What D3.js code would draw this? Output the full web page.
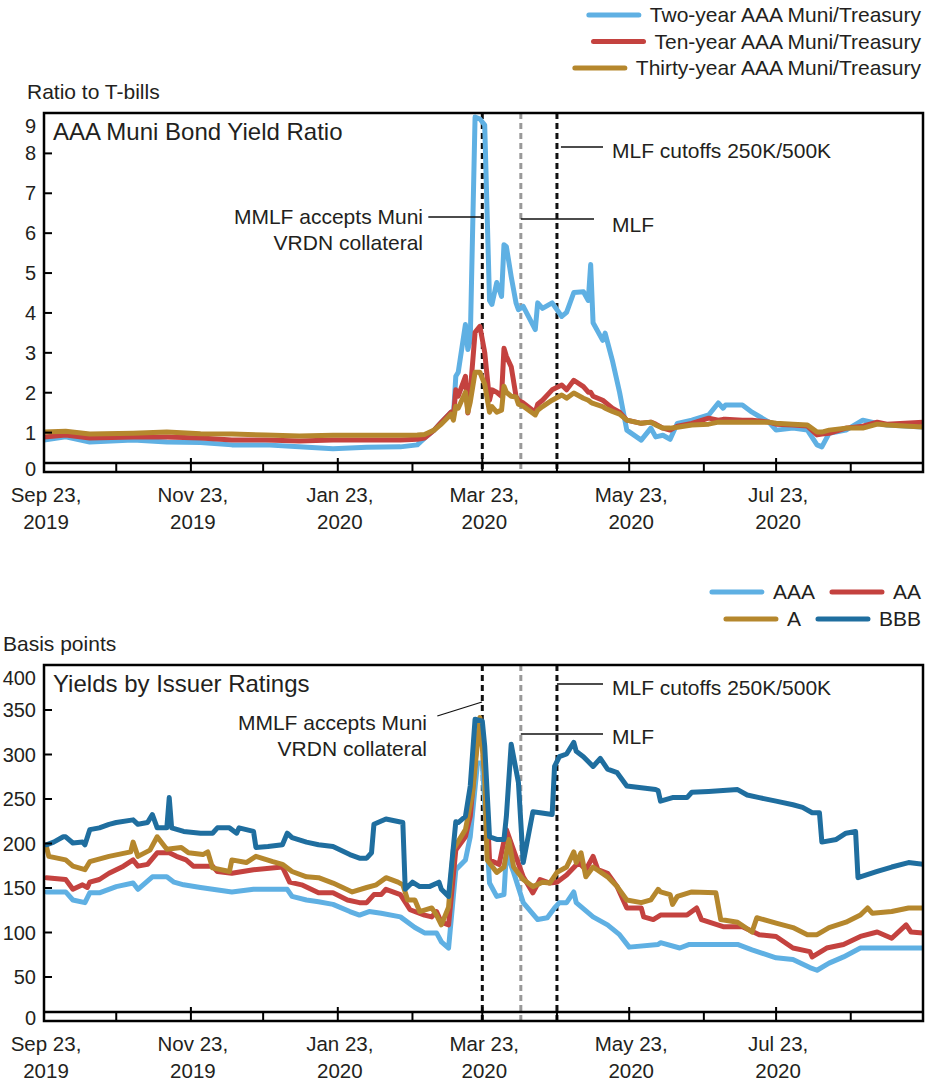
<!DOCTYPE html>
<html>
<head>
<meta charset="utf-8">
<script src="https://d3js.org/d3.v7.min.js"></script>
<style>
  body { margin: 0; background: #fff; }
  svg { display: block; font-family: 'Liberation Sans', Arial, sans-serif; }
  text { fill: #231f20; }
</style>
</head>
<body>
<div id="chart"></div>
<script>
// ---- Data: AAA muni / Treasury yield ratios ----
const ratioDates = ['2019-09-23','2019-10-02','2019-10-12','2019-10-30','2019-11-13','2019-11-27','2019-12-10','2019-12-24','2020-01-07','2020-01-21',
  '2020-02-04','2020-02-18','2020-02-25','2020-02-28','2020-03-03','2020-03-06','2020-03-10','2020-03-11','2020-03-12','2020-03-13',
  '2020-03-16','2020-03-17','2020-03-18','2020-03-20','2020-03-22','2020-03-24','2020-03-26','2020-03-27','2020-03-29','2020-03-31',
  '2020-04-01','2020-04-02','2020-04-04','2020-04-06','2020-04-07','2020-04-09','2020-04-14','2020-04-15','2020-04-17','2020-04-21',
  '2020-04-25','2020-04-27','2020-04-30','2020-05-04','2020-05-06','2020-05-07','2020-05-08','2020-05-12','2020-05-13','2020-05-16',
  '2020-05-19','2020-05-22','2020-05-28','2020-06-01','2020-06-03','2020-06-06','2020-06-09','2020-06-12','2020-06-18','2020-06-25',
  '2020-06-29','2020-07-01','2020-07-02','2020-07-09','2020-07-13','2020-07-20','2020-07-23','2020-07-30','2020-08-05','2020-08-09',
  '2020-08-11','2020-08-14','2020-08-21','2020-08-28','2020-09-03','2020-09-07','2020-09-22']
const twoYear = [0.80,0.88,0.75,0.80,0.75,0.74,0.68,0.68,0.63,0.58,
  0.62,0.63,0.68,0.85,1.05,1.25,1.50,1.38,2.40,2.50,
  3.70,3.07,3.30,8.90,8.85,8.70,4.30,4.20,4.75,4.40,
  5.70,5.65,4.90,4.24,4.07,4.15,3.57,4.24,4.10,4.24,
  3.90,4.00,4.50,4.52,4.30,5.20,3.74,3.30,3.48,2.80,
  2.00,1.05,0.80,1.10,0.88,0.92,0.82,1.22,1.30,1.43,
  1.73,1.60,1.68,1.68,1.50,1.25,1.05,1.10,1.05,0.68,
  0.63,0.97,1.05,1.30,1.22,1.18,1.13]
const tenYear = [0.88,0.93,0.85,0.88,0.88,0.85,0.80,0.80,0.78,0.80,
  0.80,0.80,0.82,0.85,1.05,1.25,1.50,1.38,2.06,1.90,
  2.40,1.48,2.00,3.50,3.65,3.00,1.80,2.06,2.00,1.90,
  3.10,2.90,2.64,1.90,1.80,1.73,1.50,1.70,1.80,2.06,
  2.18,2.06,2.30,2.14,2.00,2.00,1.90,1.80,1.75,1.60,
  1.50,1.30,1.22,1.25,1.20,1.10,1.05,1.15,1.22,1.35,
  1.30,1.32,1.32,1.30,1.30,1.25,1.20,1.18,1.15,0.93,
  0.95,0.97,1.10,1.15,1.25,1.20,1.25]
const thirtyYear = [1.00,1.02,0.95,0.97,1.00,0.96,0.95,0.93,0.90,0.92,
  0.92,0.92,0.93,0.94,1.05,1.20,1.45,1.30,1.65,1.60,
  2.00,1.50,1.75,2.50,2.50,2.20,1.50,1.64,1.50,1.55,
  2.15,2.00,1.90,1.88,1.70,1.65,1.43,1.55,1.64,1.80,
  1.93,1.85,1.98,1.85,1.80,1.75,1.72,1.64,1.60,1.52,
  1.45,1.30,1.22,1.25,1.18,1.10,1.10,1.12,1.18,1.20,
  1.25,1.25,1.25,1.25,1.25,1.25,1.22,1.20,1.18,1.00,
  1.00,1.05,1.10,1.10,1.20,1.18,1.13]

// ---- Data: yields by issuer rating (basis points) ----
const aaaYield = [['2019-09-24',145],['2019-10-02',145],['2019-10-05',136],['2019-10-10',133],['2019-10-12',144],['2019-10-16',144],
  ['2019-10-23',151],['2019-10-30',155],['2019-11-01',148],['2019-11-07',162],['2019-11-13',162],['2019-11-16',156],['2019-11-20',153],
  ['2019-11-27',150],['2019-12-10',145],['2019-12-19',148],['2020-01-02',148],['2020-01-04',140],['2020-01-10',136],['2020-01-15',134],
  ['2020-01-21',131],['2020-01-28',123],['2020-02-01',119],['2020-02-05',123],['2020-02-10',121],['2020-02-18',117],['2020-02-24',105],
  ['2020-02-28',99],['2020-03-04',99],['2020-03-06',89],['2020-03-09',82],['2020-03-12',170],['2020-03-16',181],['2020-03-18',207],
  ['2020-03-21',290],['2020-03-23',290],['2020-03-24',245],['2020-03-26',155],['2020-03-29',140],['2020-04-01',142],['2020-04-02',189],
  ['2020-04-05',167],['2020-04-09',133],['2020-04-15',114],['2020-04-19',116],['2020-04-22',127],['2020-04-24',133],['2020-04-27',133],
  ['2020-04-30',145],['2020-05-01',133],['2020-05-08',117],['2020-05-14',108],['2020-05-19',97],['2020-05-23',83],['2020-06-04',86],
  ['2020-06-05',88],['2020-06-13',82],['2020-06-17',86],['2020-07-07',86],['2020-07-13',80],['2020-07-23',71],['2020-07-30',69],
  ['2020-08-06',60],['2020-08-09',57],['2020-08-14',65],['2020-08-20',72],['2020-08-27',82],['2020-09-03',82],['2020-09-22',82]]
const aaYield = [['2019-09-24',161],['2019-10-02',159],['2019-10-05',148],['2019-10-09',153],['2019-10-11',150],['2019-10-12',156],
  ['2019-10-16',159],['2019-10-20',166],['2019-10-26',174],['2019-10-30',181],['2019-11-01',174],['2019-11-05',176],['2019-11-09',189],
  ['2019-11-14',189],['2019-11-17',185],['2019-11-21',181],['2019-11-24',174],['2019-12-02',174],['2019-12-04',168],['2019-12-10',166],
  ['2019-12-19',170],['2019-12-31',173],['2020-01-03',156],['2020-01-08',153],['2020-01-15',144],['2020-01-21',144],['2020-01-27',136],
  ['2020-02-01',133],['2020-02-04',133],['2020-02-07',142],['2020-02-10',142],['2020-02-12',148],['2020-02-18',142],['2020-02-22',125],
  ['2020-02-28',119],['2020-03-02',117],['2020-03-04',123],['2020-03-06',111],['2020-03-09',108],['2020-03-12',192],['2020-03-16',207],
  ['2020-03-18',230],['2020-03-21',320],['2020-03-23',317],['2020-03-25',241],['2020-03-26',181],['2020-03-30',176],['2020-04-02',215],
  ['2020-04-05',192],['2020-04-09',162],['2020-04-13',144],['2020-04-16',159],['2020-04-20',155],['2020-04-23',156],['2020-04-27',164],
  ['2020-05-02',178],['2020-05-05',170],['2020-05-08',185],['2020-05-10',170],['2020-05-14',166],['2020-05-18',151],['2020-05-22',127],
  ['2020-05-28',127],['2020-05-29',117],['2020-06-02',114],['2020-06-05',119],['2020-06-16',119],['2020-06-20',127],['2020-06-22',114],
  ['2020-07-01',106],['2020-07-09',106],['2020-07-16',97],['2020-07-23',95],['2020-07-30',82],['2020-08-06',78],['2020-08-07',72],
  ['2020-08-13',82],['2020-08-20',86],['2020-08-27',95],['2020-09-03',100],['2020-09-09',93],['2020-09-15',108],['2020-09-17',100],
  ['2020-09-22',99]]
const aYield = [['2019-09-24',196],['2019-09-25',185],['2019-10-02',181],['2019-10-05',174],['2019-10-10',170],['2019-10-12',179],
  ['2019-10-20',185],['2019-10-29',190],['2019-10-30',201],['2019-11-01',185],['2019-11-06',192],['2019-11-09',207],['2019-11-13',193],
  ['2019-11-19',195],['2019-11-22',189],['2019-11-28',187],['2019-11-30',190],['2019-12-02',172],['2019-12-09',168],['2019-12-10',181],
  ['2019-12-16',178],['2019-12-20',185],['2019-12-27',179],['2019-12-31',176],['2020-01-04',168],['2020-01-10',162],['2020-01-15',161],
  ['2020-01-21',155],['2020-01-25',150],['2020-01-29',145],['2020-02-04',150],['2020-02-08',153],['2020-02-12',161],['2020-02-17',156],
  ['2020-02-19',153],['2020-02-21',136],['2020-02-24',136],['2020-02-26',123],['2020-03-02',127],['2020-03-04',119],['2020-03-06',108],
  ['2020-03-09',128],['2020-03-11',193],['2020-03-16',215],['2020-03-19',257],['2020-03-22',341],['2020-03-24',275],['2020-03-25',181],
  ['2020-03-29',167],['2020-04-01',173],['2020-04-03',204],['2020-04-05',173],['2020-04-09',159],['2020-04-13',151],['2020-04-17',156],
  ['2020-04-20',155],['2020-04-23',167],['2020-04-27',173],['2020-04-30',190],['2020-05-01',178],['2020-05-03',189],['2020-05-05',162],
  ['2020-05-08',173],['2020-05-14',162],['2020-05-18',151],['2020-05-22',136],['2020-05-28',133],['2020-06-01',136],['2020-06-04',148],
  ['2020-06-05',145],['2020-06-09',142],['2020-06-10',131],['2020-06-12',140],['2020-06-18',145],['2020-06-28',144],['2020-06-30',114],
  ['2020-07-07',111],['2020-07-13',100],['2020-07-15',116],['2020-07-23',110],['2020-07-30',105],['2020-08-05',97],['2020-08-09',97],
  ['2020-08-14',105],['2020-08-21',111],['2020-08-27',119],['2020-08-30',127],['2020-09-01',121],['2020-09-09',123],['2020-09-16',127],
  ['2020-09-22',127]]
const bbbYield = [['2019-09-24',198],['2019-09-27',201],['2019-10-01',207],['2019-10-02',207],['2019-10-05',200],['2019-10-09',201],
  ['2019-10-10',198],['2019-10-12',215],['2019-10-16',217],['2019-10-20',221],['2019-10-23',223],['2019-10-30',226],['2019-11-01',221],
  ['2019-11-05',223],['2019-11-07',232],['2019-11-09',217],['2019-11-13',217],['2019-11-14',251],['2019-11-15',217],['2019-11-20',213],
  ['2019-11-27',211],['2019-12-02',211],['2019-12-04',217],['2019-12-09',217],['2019-12-12',211],['2019-12-13',217],['2019-12-19',213],
  ['2019-12-20',195],['2019-12-25',196],['2019-12-31',198],['2020-01-02',211],['2020-01-04',206],['2020-01-10',201],['2020-01-15',198],
  ['2020-01-21',196],['2020-01-28',187],['2020-02-01',183],['2020-02-04',183],['2020-02-06',189],['2020-02-07',221],['2020-02-12',227],
  ['2020-02-19',223],['2020-02-20',148],['2020-02-23',156],['2020-02-26',151],['2020-03-01',151],['2020-03-05',156],['2020-03-06',148],
  ['2020-03-09',140],['2020-03-12',224],['2020-03-13',223],['2020-03-16',230],['2020-03-18',264],['2020-03-20',339],['2020-03-23',337],
  ['2020-03-24',309],['2020-03-26',207],['2020-03-29',204],['2020-04-01',204],['2020-04-02',230],['2020-04-04',311],['2020-04-07',268],
  ['2020-04-09',178],['2020-04-13',235],['2020-04-16',234],['2020-04-21',232],['2020-04-22',286],['2020-04-24',297],['2020-04-27',300],
  ['2020-04-30',313],['2020-05-01',303],['2020-05-04',297],['2020-05-08',286],['2020-05-11',295],['2020-05-14',283],['2020-05-18',279],
  ['2020-05-22',264],['2020-05-28',262],['2020-06-03',260],['2020-06-04',259],['2020-06-05',247],['2020-06-10',251],['2020-06-16',251],
  ['2020-06-18',257],['2020-06-25',258],['2020-07-07',260],['2020-07-11',254],['2020-07-16',251],['2020-07-23',247],['2020-07-30',243],
  ['2020-08-03',240],['2020-08-07',234],['2020-08-10',234],['2020-08-11',201],['2020-08-17',204],['2020-08-21',211],['2020-08-25',213],
  ['2020-08-26',161],['2020-09-03',168],['2020-09-09',173],['2020-09-16',178],['2020-09-22',176]]

// ---- Axes, events ----
const dateDomain = ['2019-09-23', '2020-09-22']
const monthTicks = ['2019-09-23','2019-10-23','2019-11-23','2019-12-23','2020-01-23','2020-02-23',
  '2020-03-23','2020-04-23','2020-05-23','2020-06-23','2020-07-23','2020-08-23']
const labeledTicks = ['2019-09-23','2019-11-23','2020-01-23','2020-03-23','2020-05-23','2020-07-23']
const ratioTicks = [0,1,2,3,4,5,6,7,8,9]
const bpTicks = [0,50,100,150,200,250,300,350,400]
const eventDates = ['2020-03-23', '2020-04-08', '2020-04-23']
const eventColors = ['#111', '#999', '#111']

const colors = { light: '#5fb0e3', red: '#c4423f', gold: '#b5872d', dark: '#1f6e9f' }

const parse = d3.timeParse('%Y-%m-%d')
const fmtDay = d3.timeFormat('%b %-d,')
const fmtYear = d3.timeFormat('%Y')

const svg = d3.select('#chart').append('svg').attr('width', 930).attr('height', 1083)

const x = d3.scaleTime().domain(dateDomain.map(parse)).range([44, 923])

function drawPanel(cfg) {
  const y = d3.scaleLinear().domain([0, cfg.max]).range([cfg.bottom, cfg.top])
  const g = svg.append('g')
  const y0 = y(0)

  g.append('clipPath').attr('id', cfg.id)
    .append('rect').attr('x', 44).attr('y', cfg.top).attr('width', 879).attr('height', y0 - cfg.top)

  // event lines
  g.selectAll('.event').data(eventDates).enter().append('line')
    .attr('x1', (d) => x(parse(d))).attr('x2', (d) => x(parse(d)))
    .attr('y1', cfg.top).attr('y2', y0)
    .attr('stroke', (d, i) => eventColors[i])
    .attr('stroke-width', 3)
    .attr('stroke-dasharray', '6,4')

  // series
  const line = d3.line().x((d) => x(d[0])).y((d) => y(d[1]))
  cfg.series.forEach((s) => {
    g.append('path')
      .datum(s.values)
      .attr('clip-path', `url(#${cfg.id})`)
      .attr('d', line)
      .attr('fill', 'none')
      .attr('stroke', s.color)
      .attr('stroke-width', 5)
      .attr('stroke-linejoin', 'round')
      .attr('stroke-linecap', 'round')
  })

  // frame
  g.append('rect')
    .attr('x', 44).attr('y', cfg.top).attr('width', 879).attr('height', y0 - cfg.top)
    .attr('fill', 'none').attr('stroke', '#000').attr('stroke-width', 2.5)

  // x axis strip
  g.append('line').attr('x1', 44).attr('x2', 923).attr('y1', y0 - 9).attr('y2', y0 - 9)
    .attr('stroke', '#000').attr('stroke-width', 2.5)
  g.selectAll('.xtick').data(monthTicks).enter().append('line')
    .attr('x1', (d) => x(parse(d))).attr('x2', (d) => x(parse(d)))
    .attr('y1', (d) => (labeledTicks.includes(d) ? y0 - 14 : y0 - 10))
    .attr('y2', y0)
    .attr('stroke', '#000').attr('stroke-width', 2)

  const xl = g.selectAll('.xlab').data(labeledTicks).enter().append('text')
    .attr('text-anchor', 'middle').style('font-size', '20.5px')
  xl.append('tspan').attr('x', (d) => x(parse(d)) + 2).attr('y', y0 + 30).text((d) => fmtDay(parse(d)))
  xl.append('tspan').attr('x', (d) => x(parse(d)) + 2).attr('y', y0 + 57).text((d) => fmtYear(parse(d)))

  // y axis: inner ticks + labels
  g.append('g').attr('transform', 'translate(44,0)')
    .call(d3.axisRight(y).tickValues(cfg.ticks.slice(1, -1)).tickSize(8).tickFormat(''))
    .call((a) => a.select('.domain').remove())
    .selectAll('line').attr('stroke', '#000').attr('stroke-width', 2)

  const ya = g.append('g').attr('transform', 'translate(44,0)')
    .call(d3.axisLeft(y).tickValues(cfg.ticks).tickSize(0).tickPadding(8))
  ya.select('.domain').remove()
  ya.selectAll('text')
    .style('font-size', '20px').attr('font-family', null).attr('fill', '#231f20')
    .attr('dy', (d) => (d === cfg.max ? '0.95em' : d === 0 ? '0.15em' : '0.35em'))

  // titles
  g.append('text').attr('x', cfg.axisTitleX).attr('y', cfg.top - 14).style('font-size', '21px').text(cfg.axisTitle)
  g.append('text').attr('x', 53).attr('y', cfg.top + 27).style('font-size', '24px').text(cfg.title)

  // annotations
  cfg.notes.forEach((n) => {
    const ex = x(parse(eventDates[n.event]))
    g.append('line')
      .attr('x1', ex + n.gap).attr('y1', n.y1)
      .attr('x2', n.x2).attr('y2', n.y2)
      .attr('stroke', '#111').attr('stroke-width', 1.3)
    const t = g.append('text').attr('text-anchor', n.anchor).style('font-size', '21px')
    n.lines.forEach((s, i) => {
      t.append('tspan').attr('x', n.tx).attr('y', n.ty + i * 26).text(s)
    })
  })

  // legend
  cfg.legend.forEach((row, r) => {
    let cursor = 921
    const cy = cfg.legendY + r * cfg.legendStep
    row.slice().reverse().forEach((item) => {
      const t = svg.append('text').attr('x', cursor).attr('y', cy + 7)
        .attr('text-anchor', 'end').style('font-size', '21px').text(item.label)
      const start = cursor - t.node().getComputedTextLength()
      svg.append('line')
        .attr('x1', start - 61).attr('x2', start - 11).attr('y1', cy).attr('y2', cy)
        .attr('stroke', item.color).attr('stroke-width', 5).attr('stroke-linecap', 'round')
      cursor = start - 78
    })
  })
}

const pairs = (vals) => ratioDates.map((d, i) => [parse(d), vals[i]])
const toDates = (arr) => arr.map((d) => [parse(d[0]), d[1]])

drawPanel({
  id: 'clip-top', top: 113, bottom: 472, max: 9, ticks: ratioTicks,
  title: 'AAA Muni Bond Yield Ratio', axisTitle: 'Ratio to T-bills', axisTitleX: 27,
  series: [
    { values: pairs(twoYear), color: colors.light },
    { values: pairs(tenYear), color: colors.red },
    { values: pairs(thirtyYear), color: colors.gold },
  ],
  notes: [
    { event: 0, gap: -54, y1: 217, x2: 482, y2: 217, tx: 423, ty: 224, anchor: 'end', lines: ['MMLF accepts Muni', 'VRDN collateral'] },
    { event: 2, gap: 4, y1: 147, x2: 603, y2: 147, tx: 612, ty: 158, anchor: 'start', lines: ['MLF cutoffs 250K/500K'] },
    { event: 1, gap: 0, y1: 219, x2: 594, y2: 219, tx: 612, ty: 232, anchor: 'start', lines: ['MLF'] },
  ],
  legendY: 15, legendStep: 26.5,
  legend: [
    [{ label: 'Two-year AAA Muni/Treasury', color: colors.light }],
    [{ label: 'Ten-year AAA Muni/Treasury', color: colors.red }],
    [{ label: 'Thirty-year AAA Muni/Treasury', color: colors.gold }],
  ],
})

drawPanel({
  id: 'clip-bottom', top: 665, bottom: 1021, max: 400, ticks: bpTicks,
  title: 'Yields by Issuer Ratings', axisTitle: 'Basis points', axisTitleX: 3,
  series: [
    { values: toDates(aaaYield), color: colors.light },
    { values: toDates(aaYield), color: colors.red },
    { values: toDates(aYield), color: colors.gold },
    { values: toDates(bbbYield), color: colors.dark },
  ],
  notes: [
    { event: 0, gap: -45, y1: 716, x2: 482, y2: 702, tx: 427, ty: 730, anchor: 'end', lines: ['MMLF accepts Muni', 'VRDN collateral'] },
    { event: 2, gap: 0, y1: 684, x2: 603, y2: 684, tx: 612, ty: 695, anchor: 'start', lines: ['MLF cutoffs 250K/500K'] },
    { event: 1, gap: 0, y1: 734, x2: 603, y2: 734, tx: 612, ty: 744, anchor: 'start', lines: ['MLF'] },
  ],
  legendY: 592, legendStep: 27,
  legend: [
    [{ label: 'AAA', color: colors.light }, { label: 'AA', color: colors.red }],
    [{ label: 'A', color: colors.gold }, { label: 'BBB', color: colors.dark }],
  ],
})
</script>
</body>
</html>
